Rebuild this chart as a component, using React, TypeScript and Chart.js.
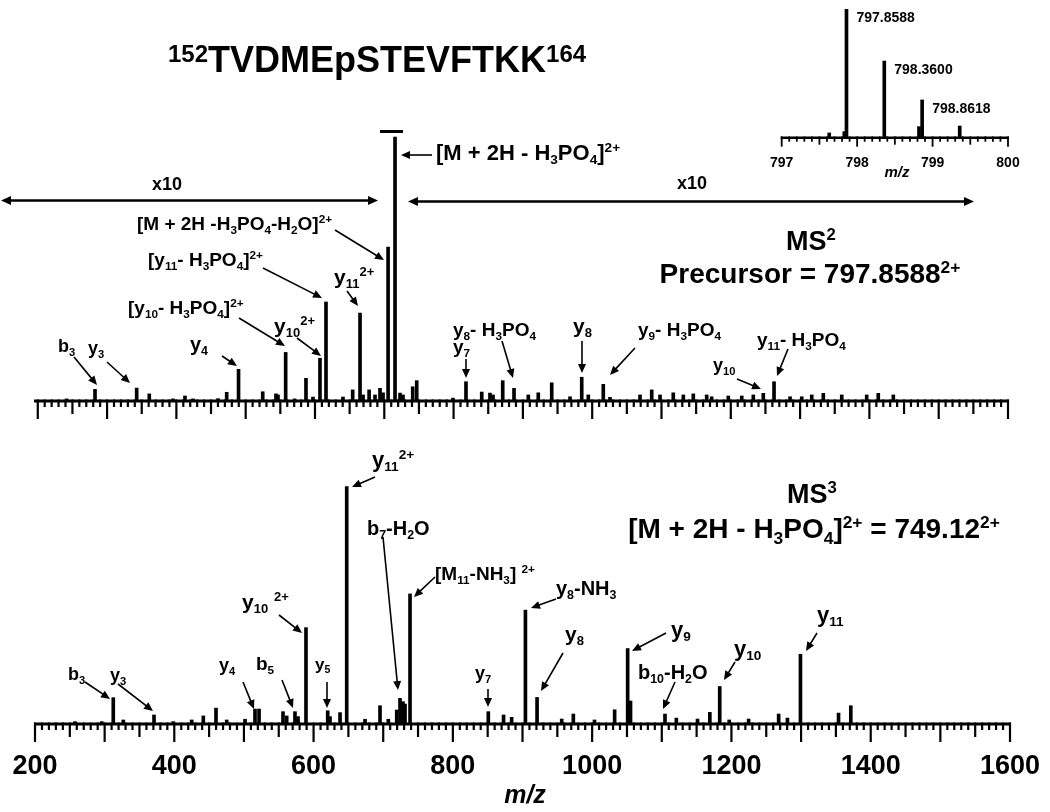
import React, { useEffect, useRef } from 'react';
import { Chart, registerables } from 'chart.js';

Chart.register(...registerables);

const W = 1050;
const H = 812;
const FONT = '"Liberation Sans", Arial, Helvetica, sans-serif';

// ---------------- DATA ----------------
// MS2 spectrum (relative drawn intensity, %, x10 zoom regions already applied)
const ms2Mz = [
  275.3, 316.2, 376.3, 394.5, 428.7, 446.0, 457.6, 493.7, 506.2, 523.3,
  558.2, 577.3, 580.2, 591.3, 604.3, 620.6, 630.7, 640.8, 649.5, 674.0,
  688.0, 698.6, 703.0, 711.7, 720.2, 727.4, 731.8, 739.1, 749.1, 756.3,
  760.6, 774.6, 780.4, 832.8, 851.5, 874.2, 886.1, 890.5, 904.5, 920.8,
  941.4, 955.8, 975.2, 1001.6, 1018.5, 1028.0, 1049.6, 1059.3, 1102.6, 1119.5,
  1131.5, 1150.6, 1165.1, 1179.5, 1198.8, 1206.0, 1230.0, 1249.4, 1266.1, 1280.5,
  1296.0, 1319.1, 1336.0, 1350.4, 1367.1, 1393.7, 1429.7, 1446.4, 1468.1,
];
const ms2Int = [
  0.8, 4.4, 4.9, 2.7, 0.8, 1.9, 0.8, 0.9, 3.3, 12.0,
  3.5, 2.7, 2.3, 18.4, 0.8, 8.6, 1.5, 16.2, 37.5, 1.5,
  4.2, 33.3, 2.3, 4.2, 2.3, 4.8, 3.1, 58.3, 100, 3.0,
  2.3, 5.4, 7.7, 1.1, 7.3, 3.4, 3.0, 2.3, 7.7, 4.8,
  2.3, 3.1, 6.9, 1.6, 9.0, 2.3, 6.3, 1.4, 2.3, 4.2,
  2.3, 3.1, 2.3, 2.7, 2.3, 1.6, 1.9, 1.9, 2.3, 2.9,
  7.3, 1.6, 1.6, 2.3, 2.9, 2.3, 2.3, 2.9, 2.3,
];

// MS3 spectrum
const ms3Mz = [
  257.4, 295.8, 312.4, 326.8, 370.9, 398.6, 425.0, 441.7, 459.9, 475.3,
  501.6, 515.9, 521.7, 556.1, 561.4, 573.3, 577.7, 589.1, 620.3, 623.6,
  638.0, 647.6, 673.9, 695.4, 707.3, 719.4, 724.1, 728.4, 731.3, 738.5,
  850.9, 872.8, 884.4, 904.2, 920.9, 956.3, 973.0, 1003.4, 1032.3, 1051.0,
  1055.1, 1104.6, 1120.9, 1151.3, 1169.0, 1183.2, 1196.8, 1224.7, 1267.8, 1280.4,
  1299.1, 1353.8, 1371.4,
];
const ms3Int = [
  1.0, 1.0, 11.1, 1.7, 3.8, 1.0, 1.7, 3.4, 6.7, 1.7,
  2.0, 6.3, 6.3, 5.2, 3.4, 5.2, 3.1, 40.6, 5.6, 3.1,
  4.8, 100, 2.0, 7.7, 2.0, 5.9, 10.8, 9.4, 8.4, 54.8,
  5.2, 3.8, 2.8, 48.0, 11.2, 2.1, 4.2, 1.7, 6.0, 31.8,
  9.7, 4.2, 2.5, 2.1, 4.9, 15.8, 1.7, 2.1, 4.2, 2.5,
  29.4, 4.6, 7.7,
];

// Precursor isotope inset
const isoMz = [797.63, 797.83, 797.8588, 798.36, 798.82, 798.8618, 799.36];
const isoInt = [3.7, 4.7, 100, 59.7, 8.6, 29.4, 9.1];
const isoPeakLabels = ['797.8588', '798.3600', '798.8618'];
const isoLabelMz = [797.8588, 798.36, 798.8618];
const isoLabelInt = [100, 59.7, 29.4];

// tick labels
const ms3TickLabels = [200, 400, 600, 800, 1000, 1200, 1400, 1600];
const isoTickLabels = [797, 798, 799, 800];

// ---------------- LAYOUT (pixels) ----------------
const AREA_MS2 = { left: 35, right: 1008, top: 137, bottom: 401, xMin: 229.6, xMax: 1633.6 };
const AREA_MS3 = { left: 35, right: 1010, top: 486.7, bottom: 724, xMin: 200, xMax: 1600 };
const AREA_ISO = { left: 781.7, right: 1008, top: 9.3, bottom: 137.7, xMin: 797, xMax: 800 };

type Lbl = { t: string; x: number; y: number; s: number; align?: 'left' | 'center' };

const ms2Labels: Lbl[] = [
  { t: '[M + 2H - H_{3}PO_{4}]^{2+}', x: 436, y: 160, s: 22 },
  { t: 'x10', x: 167, y: 190, s: 18, align: 'center' },
  { t: 'x10', x: 692, y: 189, s: 18, align: 'center' },
  { t: '[M + 2H -H_{3}PO_{4}-H_{2}O]^{2+}', x: 137, y: 230, s: 19 },
  { t: '[y_{11}- H_{3}PO_{4}]^{2+}', x: 148, y: 266, s: 19 },
  { t: 'y_{11}^{2+}', x: 334, y: 284, s: 21 },
  { t: '[y_{10}- H_{3}PO_{4}]^{2+}', x: 128, y: 314, s: 19 },
  { t: 'y_{10}^{2+}', x: 274, y: 333, s: 21 },
  { t: 'y_{4}', x: 190, y: 351, s: 20 },
  { t: 'b_{3}', x: 58, y: 352, s: 18 },
  { t: 'y_{3}', x: 88, y: 354, s: 18 },
  { t: 'y_{8}- H_{3}PO_{4}', x: 453, y: 336, s: 19 },
  { t: 'y_{7}', x: 453, y: 353, s: 19 },
  { t: 'y_{8}', x: 573, y: 333, s: 21 },
  { t: 'y_{9}- H_{3}PO_{4}', x: 638, y: 336, s: 19 },
  { t: 'y_{10}', x: 713, y: 371, s: 18 },
  { t: 'y_{11}- H_{3}PO_{4}', x: 757, y: 346, s: 19 },
  { t: 'MS^{2}', x: 811, y: 250, s: 27, align: 'center' },
  { t: 'Precursor = 797.8588^{2+}', x: 810, y: 283, s: 28, align: 'center' },
];
const ms2Arrows = [
  [432, 155, 401, 155], [335, 230, 384, 260], [263, 268, 322, 298], [347, 291, 358, 306],
  [239, 318, 285, 346], [297, 338, 321, 356], [222, 356, 237, 366], [74, 357, 97, 385],
  [107, 362, 130, 383], [502, 341, 513, 378], [466, 359, 466, 378], [582, 341, 582, 373],
  [635, 348, 610, 375], [737, 379, 761, 389], [788, 349, 777, 376],
];
const ms2DoubleArrows = [[1, 200.5, 378, 200.5], [408, 201.5, 974, 201.5]];

const ms3Labels: Lbl[] = [
  { t: 'y_{11}^{2+}', x: 372, y: 467, s: 22 },
  { t: 'b_{7}-H_{2}O', x: 367, y: 535, s: 20 },
  { t: '[M_{11}-NH_{3}] ^{2+}', x: 435, y: 580, s: 19 },
  { t: 'y_{10} ^{2+}', x: 242, y: 609, s: 21 },
  { t: 'b_{3}', x: 68, y: 680, s: 18 },
  { t: 'y_{3}', x: 110, y: 681, s: 18 },
  { t: 'y_{4}', x: 219, y: 671, s: 18 },
  { t: 'b_{5}', x: 256, y: 670, s: 19 },
  { t: 'y_{5}', x: 315, y: 670, s: 17 },
  { t: 'y_{7}', x: 475, y: 679, s: 18 },
  { t: 'y_{8}-NH_{3}', x: 556, y: 595, s: 20 },
  { t: 'y_{8}', x: 565, y: 641, s: 21 },
  { t: 'y_{9}', x: 671, y: 637, s: 22 },
  { t: 'b_{10}-H_{2}O', x: 638, y: 679, s: 20 },
  { t: 'y_{10}', x: 734, y: 656, s: 22 },
  { t: 'y_{11}', x: 817, y: 622, s: 22 },
  { t: 'MS^{3}', x: 812, y: 503, s: 27, align: 'center' },
  { t: '[M + 2H - H_{3}PO_{4}]^{2+} = 749.12^{2+}', x: 814, y: 538, s: 28, align: 'center' },
];
const ms3Arrows = [
  [375, 477, 352, 487], [383, 537, 398, 690], [435, 577, 414, 597], [279, 615, 302, 633],
  [85, 682, 110, 699], [118, 684, 153, 711], [243, 682, 254, 709], [282, 680, 293, 708],
  [327, 682, 327, 708], [488, 689, 488, 707], [556, 599, 531, 608], [563, 653, 541, 691],
  [666, 633, 632, 651], [675, 682, 663, 709], [735, 662, 724, 680], [817, 633, 806, 651],
];

// ---------------- DRAW HELPERS ----------------
function fontStr(size: number, italic = false) {
  return `${italic ? 'italic ' : ''}bold ${size}px ${FONT}`;
}

type Seg = { t: string; k: 'n' | 'sub' | 'sup' };
function parseRich(s: string): Seg[] {
  const out: Seg[] = [];
  const re = /([_^])\{([^}]*)\}/g;
  let last = 0;
  let m: RegExpExecArray | null;
  while ((m = re.exec(s))) {
    if (m.index > last) out.push({ t: s.slice(last, m.index), k: 'n' });
    out.push({ t: m[2], k: m[1] === '_' ? 'sub' : 'sup' });
    last = re.lastIndex;
  }
  if (last < s.length) out.push({ t: s.slice(last), k: 'n' });
  return out;
}

type RichOpts = { scale?: number; rise?: number; drop?: number; italic?: boolean; align?: 'left' | 'center' };
function drawRich(ctx: CanvasRenderingContext2D, text: string, x: number, y: number, size: number, opts: RichOpts = {}) {
  const o = { scale: 0.62, rise: 0.36, drop: 0.2, italic: false, align: 'left', ...opts };
  const segs = parseRich(text);
  const items: { t: string; sz: number; dy: number; x: number }[] = [];
  let w = 0;
  for (const s of segs) {
    const sz = s.k === 'n' ? size : size * o.scale;
    ctx.font = fontStr(sz, o.italic);
    const dy = s.k === 'sub' ? size * o.drop : s.k === 'sup' ? -size * o.rise : 0;
    items.push({ t: s.t, sz, dy, x: w });
    w += ctx.measureText(s.t).width;
  }
  const x0 = o.align === 'center' ? x - w / 2 : x;
  ctx.textAlign = 'left';
  ctx.textBaseline = 'alphabetic';
  ctx.fillStyle = '#000';
  for (const it of items) {
    ctx.font = fontStr(it.sz, o.italic);
    ctx.fillText(it.t, x0 + it.x, y + it.dy);
  }
}

function head(ctx: CanvasRenderingContext2D, x: number, y: number, a: number, len: number, hw: number) {
  const c = Math.cos(a);
  const s = Math.sin(a);
  ctx.beginPath();
  ctx.moveTo(x, y);
  ctx.lineTo(x - len * c + hw * s, y - len * s - hw * c);
  ctx.lineTo(x - len * c - hw * s, y - len * s + hw * c);
  ctx.closePath();
  ctx.fill();
}

function arrow(ctx: CanvasRenderingContext2D, x1: number, y1: number, x2: number, y2: number, lw = 1.6, len = 9, hw = 4, both = false) {
  const a = Math.atan2(y2 - y1, x2 - x1);
  const c = Math.cos(a);
  const s = Math.sin(a);
  ctx.strokeStyle = '#000';
  ctx.fillStyle = '#000';
  ctx.lineWidth = lw;
  ctx.beginPath();
  ctx.moveTo(both ? x1 + c * len * 0.7 : x1, both ? y1 + s * len * 0.7 : y1);
  ctx.lineTo(x2 - c * len * 0.7, y2 - s * len * 0.7);
  ctx.stroke();
  head(ctx, x2, y2, a, len, hw);
  if (both) head(ctx, x1, y1, a + Math.PI, len, hw);
}

function drawAxis(chart: any, from: number, to: number, step: number, lens: number[], lw: number, axisLw: number) {
  const ctx: CanvasRenderingContext2D = chart.ctx;
  const xs = chart.scales.x;
  const y0 = chart.scales.y.getPixelForValue(0);
  ctx.save();
  ctx.strokeStyle = '#000';
  ctx.lineCap = 'butt';
  ctx.lineWidth = axisLw;
  ctx.beginPath();
  ctx.moveTo(chart.chartArea.left - 1, y0);
  ctx.lineTo(chart.chartArea.right + 1, y0);
  ctx.stroke();
  ctx.lineWidth = lw;
  const n = Math.round((to - from) / step);
  for (let i = 0; i <= n; i++) {
    const v = from + i * step;
    const px = xs.getPixelForValue(v);
    const L = i % 10 === 0 ? lens[0] : i % 5 === 0 ? lens[1] : lens[2];
    ctx.beginPath();
    ctx.moveTo(px, y0 - axisLw / 2);
    ctx.lineTo(px, y0 + L);
    ctx.stroke();
  }
  ctx.restore();
}

function makeChart(canvas: HTMLCanvasElement, mz: number[], inten: number[], area: any, barW: number, deco: (c: any) => void) {
  return new Chart(canvas, {
    type: 'bar',
    data: {
      datasets: [
        {
          data: mz.map((m, i) => ({ x: m, y: inten[i] })),
          backgroundColor: '#000',
          borderWidth: 0,
          barThickness: barW,
          clip: false as any,
        } as any,
      ],
    },
    options: {
      animation: false,
      responsive: false,
      devicePixelRatio: 1,
      events: [],
      layout: { padding: { left: area.left, right: W - area.right, top: area.top, bottom: H - area.bottom } },
      plugins: { legend: { display: false }, tooltip: { enabled: false }, title: { display: false } },
      scales: {
        x: { type: 'linear', min: area.xMin, max: area.xMax, display: false, offset: false },
        y: { type: 'linear', min: 0, max: 100, display: false },
      },
    } as any,
    plugins: [{ id: 'deco', afterDatasetsDraw: (c: any) => deco(c) }],
  });
}

// ---------------- APP ----------------
export default function App() {
  const topRef = useRef<HTMLCanvasElement>(null);
  const botRef = useRef<HTMLCanvasElement>(null);
  const isoRef = useRef<HTMLCanvasElement>(null);

  useEffect(() => {
    const charts: Chart[] = [];

    charts.push(
      makeChart(botRef.current!, ms3Mz, ms3Int, AREA_MS3, 3, (c) => {
        const ctx: CanvasRenderingContext2D = c.ctx;
        drawAxis(c, 200, 1600, 10, [18, 13, 6], 2.2, 3);
        ctx.save();
        for (const v of ms3TickLabels) {
          ctx.font = fontStr(27);
          ctx.textAlign = 'center';
          ctx.textBaseline = 'alphabetic';
          ctx.fillStyle = '#000';
          ctx.fillText(String(v), c.scales.x.getPixelForValue(v), 774);
        }
        ctx.font = fontStr(25, true);
        ctx.textAlign = 'center';
        ctx.fillText('m/z', 525, 803);
        for (const l of ms3Labels) drawRich(ctx, l.t, l.x, l.y, l.s, { align: l.align });
        for (const a of ms3Arrows) arrow(ctx, a[0], a[1], a[2], a[3]);
        ctx.restore();
      })
    );

    charts.push(
      makeChart(topRef.current!, ms2Mz, ms2Int, AREA_MS2, 3, (c) => {
        const ctx: CanvasRenderingContext2D = c.ctx;
        drawAxis(c, 233.6, 1633.6, 10, [18, 13, 6], 2.2, 3);
        ctx.save();
        // precursor marker above the base peak
        const bp = ms2Int.indexOf(Math.max(...ms2Int));
        const px = c.scales.x.getPixelForValue(ms2Mz[bp]);
        const py = c.scales.y.getPixelForValue(ms2Int[bp]);
        ctx.fillStyle = '#000';
        ctx.fillRect(px - 15, py - 7, 23, 3);
        // title
        drawRich(ctx, '^{152}TVDMEpSTEVFTKK^{164}', 168, 72, 36, { scale: 0.667, rise: 0.28 });
        for (const l of ms2Labels) drawRich(ctx, l.t, l.x, l.y, l.s, { align: l.align });
        for (const a of ms2Arrows) arrow(ctx, a[0], a[1], a[2], a[3]);
        for (const a of ms2DoubleArrows) arrow(ctx, a[0], a[1], a[2], a[3], 2.4, 10, 4.5, true);
        ctx.restore();
      })
    );

    charts.push(
      makeChart(isoRef.current!, isoMz, isoInt, AREA_ISO, 3, (c) => {
        const ctx: CanvasRenderingContext2D = c.ctx;
        drawAxis(c, 797, 800, 0.1, [9, 7, 4], 1.8, 2.5);
        ctx.save();
        ctx.fillStyle = '#000';
        ctx.textBaseline = 'alphabetic';
        for (const v of isoTickLabels) {
          ctx.font = fontStr(14);
          ctx.textAlign = 'center';
          ctx.fillText(String(v), c.scales.x.getPixelForValue(v), 167);
        }
        ctx.font = fontStr(15, true);
        ctx.textAlign = 'center';
        ctx.fillText('m/z', 897, 177);
        ctx.font = fontStr(14);
        ctx.textAlign = 'left';
        isoPeakLabels.forEach((t, i) => {
          const x = c.scales.x.getPixelForValue(isoLabelMz[i]) + 10;
          const y = c.scales.y.getPixelForValue(isoLabelInt[i]) + 13;
          ctx.fillText(t, x, y);
        });
        ctx.restore();
      })
    );

    return () => charts.forEach((ch) => ch.destroy());
  }, []);

  const st: React.CSSProperties = { position: 'absolute', left: 0, top: 0, width: W, height: H };
  return (
    <div style={{ position: 'absolute', left: 0, top: 0, width: W, height: H, background: '#fff', overflow: 'hidden' }}>
      <canvas ref={botRef} width={W} height={H} style={st} />
      <canvas ref={topRef} width={W} height={H} style={st} />
      <canvas ref={isoRef} width={W} height={H} style={st} />
    </div>
  );
}
